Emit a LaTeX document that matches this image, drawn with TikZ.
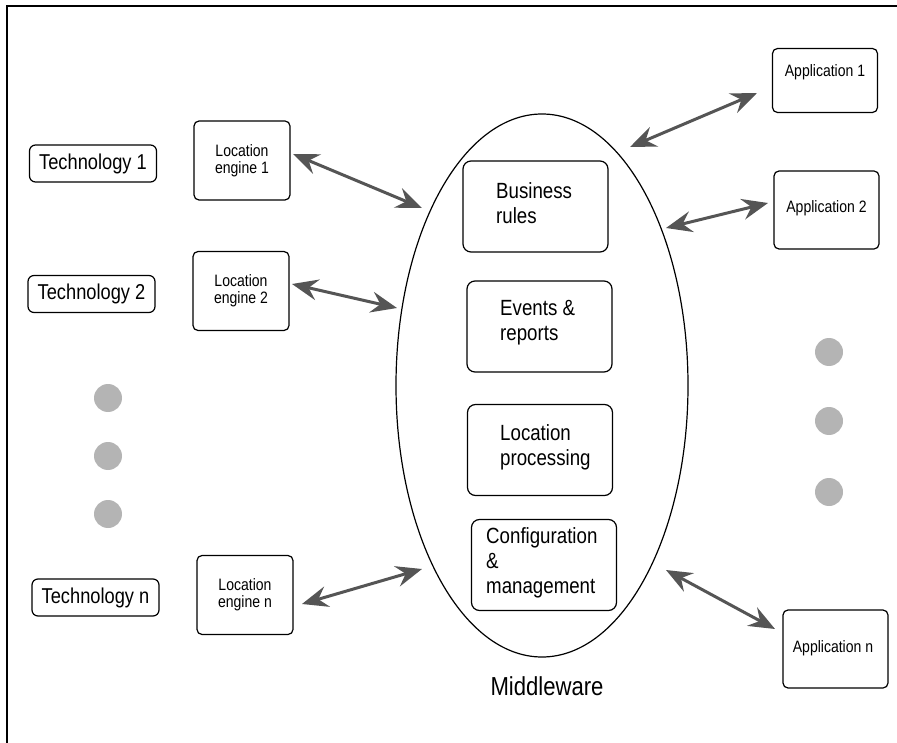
\documentclass[tikz,border=0pt]{standalone}
\usepackage{fontspec}
\setmainfont{Liberation Sans}[FakeStretch=0.85]
\usetikzlibrary{arrows.meta,shapes.geometric}

\definecolor{arrowgray}{HTML}{555555}
\definecolor{dotgray}{HTML}{B4B4B4}

\tikzset{
  frameline/.style={line width=1.5pt, draw=black},
  techbox/.style={draw, rounded corners=6pt, line width=1.2pt, minimum width=127pt,
    minimum height=37pt, inner sep=0pt, font=\fontsize{21.5}{24}\selectfont},
  enginebox/.style={draw, rounded corners=5pt, line width=1.2pt, minimum width=96pt,
    minimum height=79pt, inner sep=0pt, align=center, font=\fontsize{16.5}{17}\selectfont},
  appbox/.style={draw, rounded corners=5pt, line width=1.2pt, minimum width=105pt,
    minimum height=78pt, inner sep=0pt},
  apptext/.style={font=\fontsize{16.5}{18}\selectfont, inner sep=0pt},
  corebox/.style={draw, rounded corners=8pt, line width=1.2pt, minimum width=145pt,
    minimum height=91pt, inner sep=0pt},
  coretext/.style={font=\fontsize{22}{25}\selectfont, align=left, inner sep=0pt, anchor=west},
  middleware/.style={draw, ellipse, line width=1.2pt, minimum width=292pt,
    minimum height=543pt, inner sep=0pt},
  biarrow/.style={draw=arrowgray, line width=3pt,
    {Stealth[length=26pt,width=21pt,inset=9pt]}-{Stealth[length=26pt,width=21pt,inset=9pt]}},
  dot/.style={circle, fill=dotgray, minimum size=28pt, inner sep=0pt},
}

\begin{document}
\begin{tikzpicture}[x=1pt,y=-1pt]
\useasboundingbox (0,0) rectangle (897,743);

% frame
\draw[frameline] (7,743) -- (7,6) -- (897,6);

% technologies
\node[techbox] (tech1) at (93,163.5) {Technology 1};
\node[techbox] (tech2) at (91.5,294) {Technology 2};
\node[techbox] (techn) at (95.5,597.5) {Technology n};

% location engines
\node[enginebox] (le1) at (242,160.5) {Location\\engine 1};
\node[enginebox] (le2) at (241,291) {Location\\engine 2};
\node[enginebox] (len) at (245,595) {Location\\engine n};

% left ellipsis dots
\node[dot] (ldot1) at (108,398) {};
\node[dot] (ldot2) at (108,456) {};
\node[dot] (ldot3) at (108,514) {};

% middleware
\node[middleware] (mw) at (542,385.5) {};
\node[font=\fontsize{26}{28}\selectfont, inner sep=0pt] (mwlabel) at (547,686) {Middleware};

\node[corebox] (rules) at (535.5,206.5) {};
\node[coretext] (rulestext) at (496,203) {Business\\rules};
\node[corebox] (events) at (539.5,326.5) {};
\node[coretext] (eventstext) at (500,323) {Events \&\\reports};
\node[corebox] (proc) at (540,450) {};
\node[coretext] (proctext) at (500,447) {Location\\processing};
\node[corebox] (config) at (544,565) {};
\node[coretext] (configtext) at (486,563) {Configuration\\\&\\management};

% applications
\node[appbox, minimum height=64pt] (app1) at (825,80.5) {};
\node[apptext] (app1text) at (825,72) {Application 1};
\node[appbox] (app2) at (826.5,210) {};
\node[apptext] (app2text) at (826.5,208.5) {Application 2};
\node[appbox] (appn) at (835.5,649) {};
\node[apptext] (appntext) at (833,648) {Application n};

% right ellipsis dots
\node[dot] (rdot1) at (829,352) {};
\node[dot] (rdot2) at (829,421) {};
\node[dot] (rdot3) at (829,492) {};

% arrow end points
\coordinate (le1-end) at (293,154);
\coordinate (mw-le1) at (422,208);
\coordinate (le2-end) at (292,284);
\coordinate (mw-le2) at (397,308);
\coordinate (len-end) at (302,604);
\coordinate (mw-len) at (422,569);
\coordinate (mw-app1) at (630,147);
\coordinate (app1-end) at (757,93);
\coordinate (mw-app2) at (666,228);
\coordinate (app2-end) at (768,203);
\coordinate (mw-appn) at (666,570);
\coordinate (appn-end) at (775,629);

% connections
\draw[biarrow] (le1-end) -- (mw-le1);
\draw[biarrow] (le2-end) -- (mw-le2);
\draw[biarrow] (len-end) -- (mw-len);
\draw[biarrow] (mw-app1) -- (app1-end);
\draw[biarrow] (mw-app2) -- (app2-end);
\draw[biarrow] (mw-appn) -- (appn-end);
\end{tikzpicture}
\end{document}
